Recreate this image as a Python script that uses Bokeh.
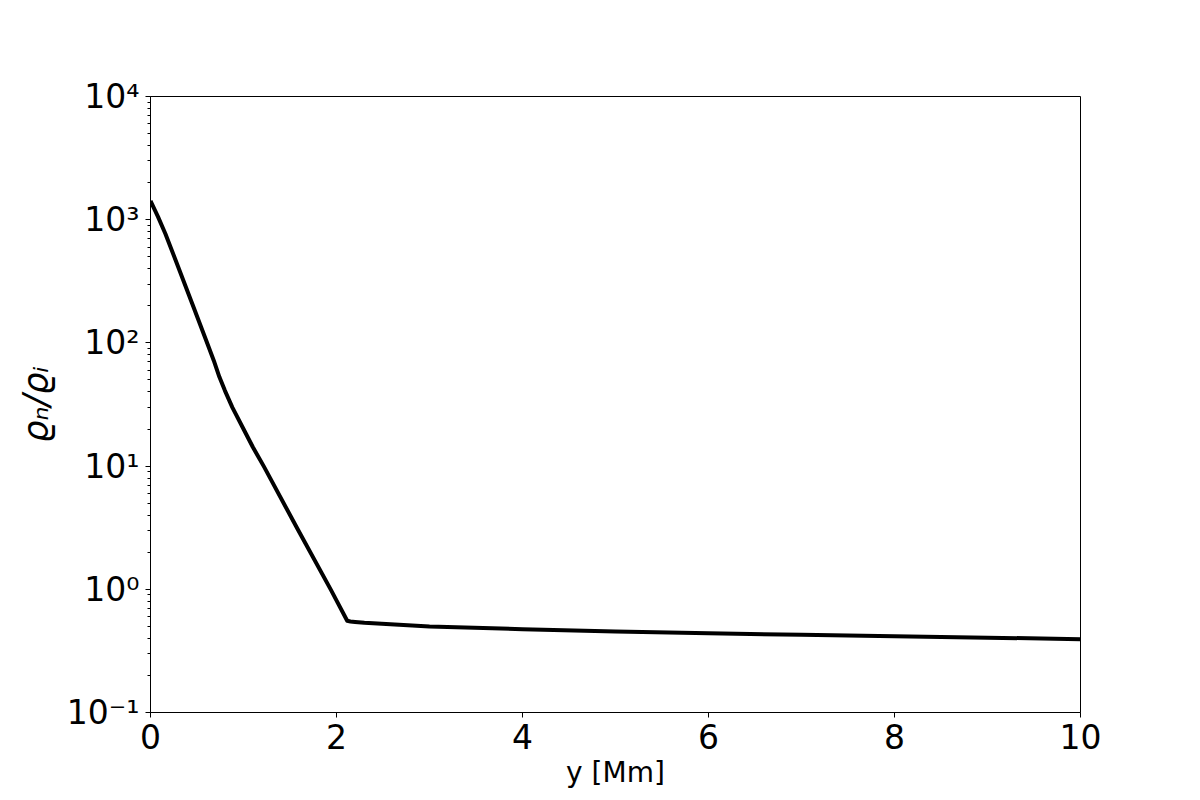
from bokeh.plotting import figure
from bokeh.models import FixedTicker, CustomJSTickFormatter, Range1d
from bokeh.embed import file_html
from bokeh.resources import INLINE

# data
y_mm = [0.0, 0.08, 0.16, 0.3, 0.45, 0.6, 0.68, 0.74, 0.8, 0.88, 1.0, 1.1, 1.22, 1.58, 1.94,
        2.115, 2.15, 2.2, 2.3, 3.0, 4.0, 5.0, 6.0, 7.0, 8.0, 9.0, 10.0]
ratio = [1420, 1060, 770, 410, 207, 104, 72, 53, 41, 30, 20, 14.3, 9.9, 3.1, 0.99,
         0.555, 0.548, 0.543, 0.535, 0.50, 0.475, 0.455, 0.44, 0.427, 0.415, 0.405, 0.394]

x_ticks = [0, 2, 4, 6, 8, 10]
y_ticks = [0.1, 1, 10, 100, 1000, 10000]

p = figure(width=1184, height=792, y_axis_type="log",
           x_range=Range1d(0, 10), y_range=Range1d(0.1, 10000),
           output_backend="svg", toolbar_location=None,
           min_border_left=150, min_border_right=104,
           min_border_top=96, min_border_bottom=80)

p.line(y_mm, ratio, line_color="black", line_width=4, line_join="round")

p.grid.visible = False
p.outline_line_color = "black"
p.outline_line_width = 1
p.background_fill_color = "white"
p.border_fill_color = "white"

minor = []
for e in range(-1, 4):
    for m in range(2, 10):
        minor.append(m * 10 ** e)

p.xaxis.ticker = FixedTicker(ticks=x_ticks, minor_ticks=[])
p.yaxis.ticker = FixedTicker(ticks=y_ticks, minor_ticks=minor)

p.yaxis.formatter = CustomJSTickFormatter(code="""
const sup = {'-':'\u207b','0':'\u2070','1':'\u00b9','2':'\u00b2','3':'\u00b3','4':'\u2074',
             '5':'\u2075','6':'\u2076','7':'\u2077','8':'\u2078','9':'\u2079'};
const e = Math.round(Math.log10(tick));
return '10' + String(e).split('').map(c => sup[c]).join('');
""")

for ax in (p.xaxis[0], p.yaxis[0]):
    ax.axis_line_color = "black"
    ax.axis_line_width = 1
    ax.major_tick_line_color = "black"
    ax.minor_tick_line_color = "black"
    ax.major_tick_line_width = 1
    ax.minor_tick_line_width = 1
    ax.major_tick_out = 5
    ax.major_tick_in = 0
    ax.minor_tick_out = 3
    ax.minor_tick_in = 0
    ax.major_label_text_font = "DejaVu Sans"
    ax.major_label_text_font_size = "33px"
    ax.major_label_text_color = "black"
    ax.axis_label_text_font = "DejaVu Sans"
    ax.axis_label_text_color = "black"

p.xaxis.axis_label = "y [Mm]"
p.xaxis.axis_label_text_font_size = "28px"
p.xaxis.axis_label_text_font_style = "normal"
p.xaxis.major_label_standoff = 6
p.xaxis.axis_label_standoff = 4

p.yaxis.axis_label = "\u03f1\u2099/\u03f1\u1d62"
p.yaxis.axis_label_text_font_size = "35px"
p.yaxis.axis_label_text_font_style = "italic"
p.yaxis.major_label_standoff = 6
p.yaxis.axis_label_standoff = 8

open("out.html", "w").write(file_html(p, INLINE))
